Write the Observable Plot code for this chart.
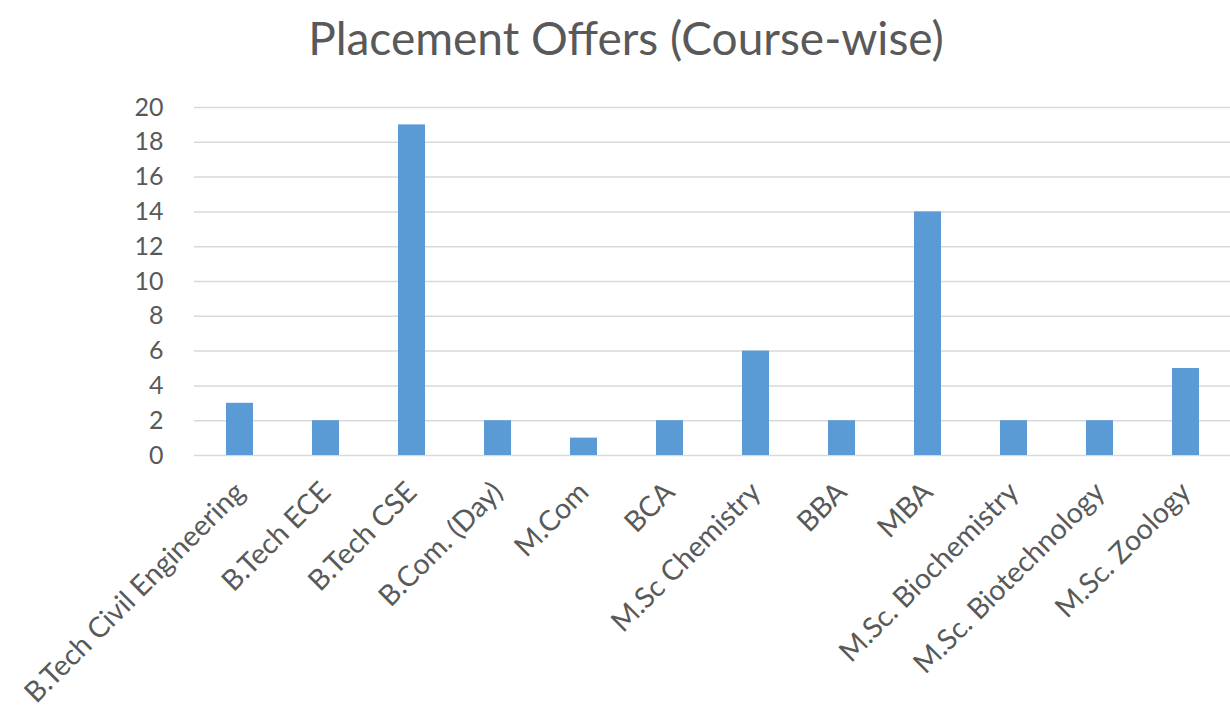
<!DOCTYPE html>
<html>
<head>
<meta charset="utf-8">
<script src="https://cdn.jsdelivr.net/npm/d3@7"></script>
<script src="https://cdn.jsdelivr.net/npm/@observablehq/plot@0.6"></script>
<style>
  html, body { margin: 0; padding: 0; background: #fff; }
  #title { height: 80px; width: 1230px; box-sizing: border-box; padding-left: 22px; text-align: center; font-family: Lato, "Open Sans", sans-serif; font-size: 46px; color: #595959; line-height: 76px; }
</style>
</head>
<body>
<div id="title">Placement Offers (Course-wise)</div>
<div id="chart"></div>
<script>
const courses = ["B.Tech Civil Engineering", "B.Tech ECE", "B.Tech CSE", "B.Com. (Day)", "M.Com", "BCA", "M.Sc Chemistry", "BBA", "MBA", "M.Sc. Biochemistry", "M.Sc. Biotechnology", "M.Sc. Zoology"];
const offers = [3, 2, 19, 2, 1, 2, 6, 2, 14, 2, 2, 5];
const yTicks = [0, 2, 4, 6, 8, 10, 12, 14, 16, 18, 20];

const data = courses.map((c, i) => ({course: c, offers: offers[i]}));

const chart = Plot.plot({
  width: 1230,
  height: 640,
  marginTop: 27,
  marginBottom: 265,
  marginLeft: 194,
  marginRight: 0,
  style: {fontFamily: "Lato, 'Open Sans', sans-serif", color: "#595959", background: "#fff"},
  x: {domain: courses, paddingInner: 0.687, paddingOuter: 0.3435, label: null},
  y: {domain: [0, 20], label: null},
  marks: [
    Plot.gridY(yTicks, {stroke: "#d9d9d9", strokeOpacity: 1, strokeWidth: 1.5}),
    Plot.barY(data, {x: "course", y: "offers", fill: "#5b9bd5"}),
    Plot.axisY(yTicks, {tickSize: 0, tickPadding: 31, fontSize: 25, fill: "#595959", label: null}),
    Plot.axisX({tickSize: 0, tickRotate: -45, tickPadding: 32, fontSize: 28.5, fill: "#595959", label: null})
  ]
});
document.getElementById("chart").appendChild(chart);
</script>
</body>
</html>
